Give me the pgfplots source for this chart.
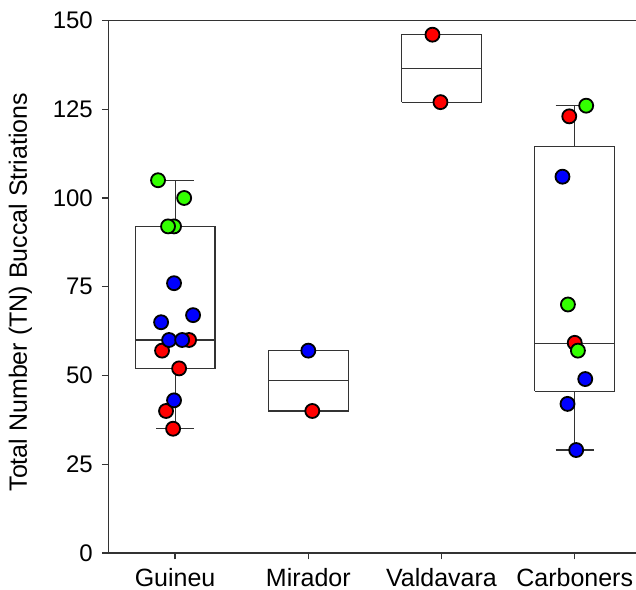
\documentclass[border=0pt]{standalone}
\usepackage{fontspec}
\setmainfont{Liberation Sans}
\usepackage{pgfplots}
\pgfplotsset{compat=1.18}
\definecolor{pR}{RGB}{255,0,0}
\definecolor{pG}{RGB}{51,255,0}
\definecolor{pB}{RGB}{0,0,255}
\definecolor{boxc}{RGB}{51,51,51}
\begin{document}
\begin{tikzpicture}
\begin{axis}[name=ax, scale only axis, width=527.5pt, height=532.5pt,
  xmin=-0.5, xmax=3.46, ymin=0, ymax=150,
  axis x line=box, axis y line=left,
  axis line style={-, line width=1.3pt, draw=boxc},
  xtick pos=left, ytick pos=left,
  xtick={0,1,2,3}, xticklabels={Guineu,Mirador,Valdavara,Carboners},
  ytick={0,25,50,75,100,125,150},
  tick align=outside, major tick length=6.5pt,
  tick style={line width=1.3pt, draw=boxc},
  /pgf/number format/assume math mode=true,
  yticklabel style={font=\fontsize{24}{28}\selectfont, anchor=east, inner sep=0pt, xshift=-9pt},
  xticklabel style={font=\fontsize{25}{30}\selectfont, anchor=base, inner sep=0pt, yshift=-26.7pt},
  ylabel={Total Number (TN) Buccal Striations},
  every axis y label/.style={at={(rel axis cs:0,0.49)}, xshift=-81.5pt, rotate=90, anchor=base, font=\fontsize{25}{30}\selectfont},
  clip=false, unbounded coords=jump,
]
% boxes: outline, median, whiskers and caps
\addplot[boxc, line width=1.2pt] coordinates {
(-0.3,52) (0.3,52) (0.3,92) (-0.3,92) (-0.3,52) (nan,nan)
(-0.3,60) (0.3,60) (nan,nan)
(0,92) (0,105) (nan,nan) (-0.1425,105) (0.1425,105) (nan,nan)
(0,52) (0,35) (nan,nan) (-0.1425,35) (0.1425,35)
};
\addplot[boxc, line width=1.2pt] coordinates {
(0.7,40) (1.3,40) (1.3,57) (0.7,57) (0.7,40) (nan,nan)
(0.7,48.5) (1.3,48.5)
};
\addplot[boxc, line width=1.2pt] coordinates {
(1.7,127) (2.3,127) (2.3,146) (1.7,146) (1.7,127) (nan,nan)
(1.7,136.5) (2.3,136.5)
};
\addplot[boxc, line width=1.2pt] coordinates {
(2.7,45.5) (3.3,45.5) (3.3,114.5) (2.7,114.5) (2.7,45.5) (nan,nan)
(2.7,59) (3.3,59) (nan,nan)
(3,114.5) (3,126) (nan,nan) (2.8575,126) (3.1425,126) (nan,nan)
(3,45.5) (3,29) (nan,nan) (2.8575,29) (3.1425,29)
};
% red
\addplot[only marks, mark=*, mark size=7pt, mark options={fill=pR, draw=black, line width=1.8pt}] coordinates {
(0.105,60) (-0.098,57) (0.030,52) (-0.068,40) (-0.015,35)
(1.03,40) (1.932,146) (1.992,127)
(2.959,123) (3.0,59.2)
};
% blue
\addplot[only marks, mark=*, mark size=7pt, mark options={fill=pB, draw=black, line width=1.8pt}] coordinates {
(-0.008,76) (-0.105,65) (0.135,67) (-0.045,60) (0.053,60) (-0.008,43)
(1.0,57)
(2.908,106) (3.079,49) (2.946,42) (3.011,29)
};
% green
\addplot[only marks, mark=*, mark size=7pt, mark options={fill=pG, draw=black, line width=1.8pt}] coordinates {
(-0.128,105) (0.068,100) (-0.008,92) (-0.053,92)
(3.086,126) (2.949,70) (3.024,57)
};
\end{axis}
\pgfresetboundingbox
\path[use as bounding box] ([shift={(-108.5pt,-37pt)}]ax.south west) rectangle ([shift={(0pt,20.5pt)}]ax.north east);
\end{tikzpicture}
\end{document}
